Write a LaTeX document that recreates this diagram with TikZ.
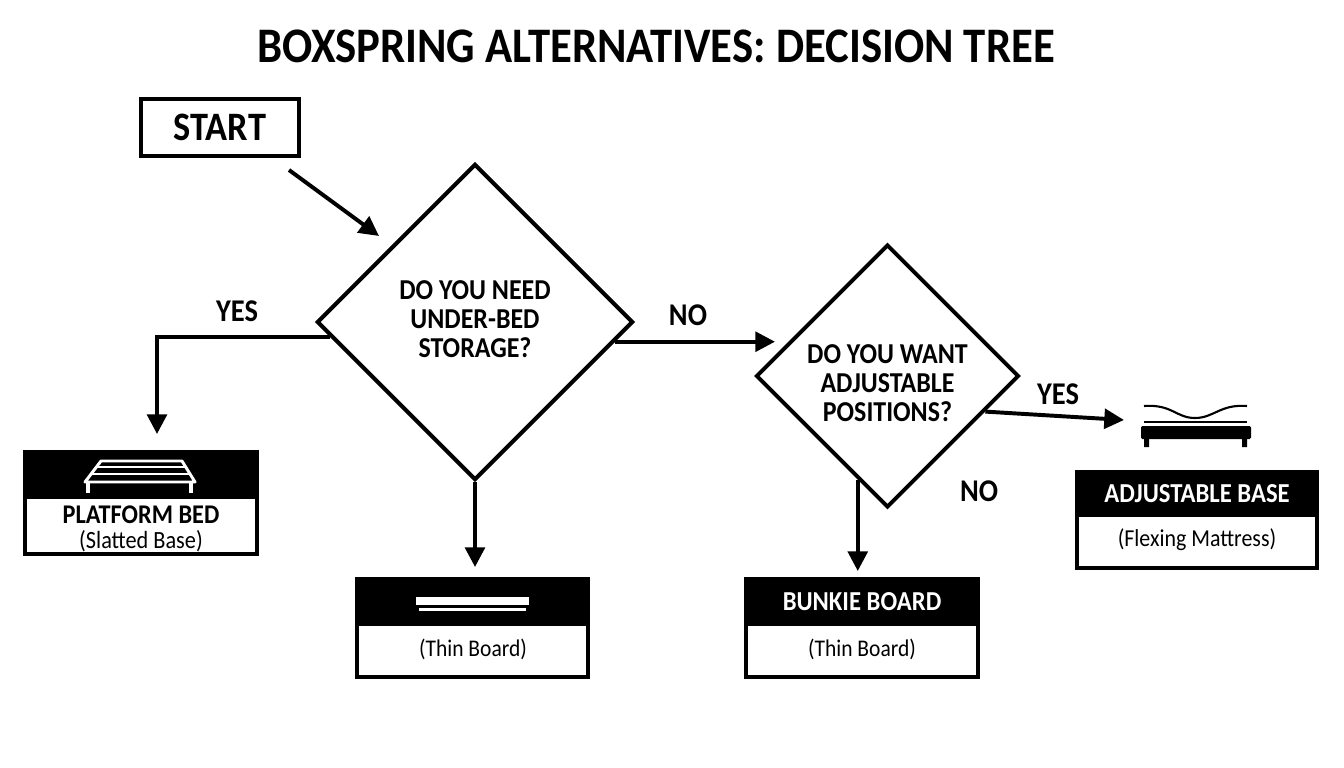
\documentclass[tikz,border=0pt]{standalone}
\usepackage{fontspec}
\setmainfont[FakeStretch=0.9]{Carlito}
\usepackage{tikz}
\usetikzlibrary{shapes.geometric,arrows.meta}
\tikzset{
  outline/.style={draw, line width=2.8pt, fill=white, inner sep=0pt},
  question/.style={diamond, outline, aspect=1, minimum width=7.9cm, minimum height=7.9cm},
  questiontext/.style={inner sep=0pt, align=center, font=\bfseries\fontsize{20.5}{20.6}\selectfont},
  answer/.style={font=\bfseries\fontsize{22.5}{24}\selectfont, inner sep=0pt},
  result/.style={outline},
  header/.style={fill=black, text=white, inner sep=0pt, font=\bfseries\fontsize{19.5}{20}\selectfont},
  note/.style={inner sep=0pt, font=\fontsize{17}{19}\selectfont},
  flow/.style={line width=2.8pt, -{Triangle[length=14pt,width=14pt]}},
  icon/.style={line width=2.1pt, white},
}
\begin{document}
\begin{tikzpicture}[x=0.025cm,y=-0.025cm]
\useasboundingbox (0,0) rectangle (1344,768);
% Title and start
\node[inner sep=0pt, font=\bfseries\fontsize{35.35}{37}\selectfont] (title) at (656,46) {BOXSPRING ALTERNATIVES: DECISION TREE};
\node[outline, minimum width=3.95cm, minimum height=1.42cm, font=\bfseries\fontsize{28.7}{30}\selectfont] (start) at (220,127.5) {START};

% Questions
\node[question] (storage) at (475,322) {};
\node[questiontext] (storagetext) at (475,319) {DO YOU NEED\\UNDER-BED\\STORAGE?};
\node[question, minimum width=6.57cm, minimum height=6.57cm] (adjust) at (887.5,376) {};
\node[questiontext] (adjusttext) at (887.5,383) {DO YOU WANT\\ADJUSTABLE\\POSITIONS?};

% Platform bed
\node[result, minimum width=5.8cm, minimum height=2.55cm] (platform) at (141,503) {};
\node[header, minimum width=5.85cm, minimum height=1.2cm] (platformhead) at (141,475) {};
\node[inner sep=0pt, align=center, font=\fontsize{17.6}{17}\selectfont] (platformtext) at (141,529) {{\bfseries\fontsize{19.2}{20}\selectfont PLATFORM BED}\\[1pt](Slatted Base)};
\draw[icon, line join=round] (85,482) -- (101,461) -- (182,461) -- (195,482) -- cycle;
\draw[icon] (97,467) -- (185,467) (91,474) -- (190,474);
\draw[icon, line width=3.4pt] (88,482) -- (88,493) (191,482) -- (191,493);

% Thin board
\node[result, minimum width=5.77cm, minimum height=2.45cm] (thin) at (472.5,628) {};
\node[header, minimum width=5.82cm, minimum height=1.2cm] (thinhead) at (472.5,602) {};
\node[note] (thintext) at (473,649) {(Thin Board)};
\fill[white] (416,597) rectangle (529,605);
\fill[white] (419,608) rectangle (526,611);

% Bunkie board
\node[result, minimum width=5.8cm, minimum height=2.45cm] (bunkie) at (862,628) {};
\node[header, minimum width=5.85cm, minimum height=1.2cm] (bunkiehead) at (862,602) {BUNKIE BOARD};
\node[note] (bunkietext) at (862,649) {(Thin Board)};

% Adjustable base
\node[result, minimum width=6cm, minimum height=2.4cm] (base) at (1197,520) {};
\node[header, minimum width=6.05cm, minimum height=1.15cm] (basehead) at (1197,494) {ADJUSTABLE BASE};
\node[note, font=\fontsize{17.3}{19}\selectfont] (basetext) at (1197,540) {(Flexing Mattress)};
\draw[line width=1.5pt] (1144,406) .. controls (1172,404) and (1176,418) .. (1195,418) .. controls (1214,418) and (1220,404) .. (1247,406);
\draw[line width=1.8pt] (1144,422) -- (1247,422);
\fill[black, rounded corners=1pt] (1141,426) rectangle (1251,439);
\fill[black] (1144,438) rectangle (1149,447) (1242,438) rectangle (1247,447);

% Free ends of the arrows
\coordinate (starttail) at (289,170);
\coordinate (starttip) at (379,236);
\coordinate (yeslefttip) at (157,434);
\coordinate (notip) at (775,341);
\coordinate (storagetip) at (475,567);
\coordinate (adjusttip) at (857,571);
\coordinate (yesrighttip) at (1124,420);

% Arrows
\draw[flow] (starttail) -- (starttip);
\draw[flow] (storage.186.8) -| (yeslefttip);
\draw[flow] (storage.-8) -- (storage.-8 -| notip);
\draw[flow] (storage.south) -- (storagetip);
\draw[flow] (adjust.-106.9) -- (adjust.-106.9 |- adjusttip);
\draw[flow] (adjust.-20.3) -- (yesrighttip);

% Answers
\node[answer] (yes1) at (237,311) {YES};
\node[answer] (no1) at (688,315) {NO};
\node[answer] (yes2) at (1058,394) {YES};
\node[answer] (no2) at (979,491) {NO};
\end{tikzpicture}
\end{document}
